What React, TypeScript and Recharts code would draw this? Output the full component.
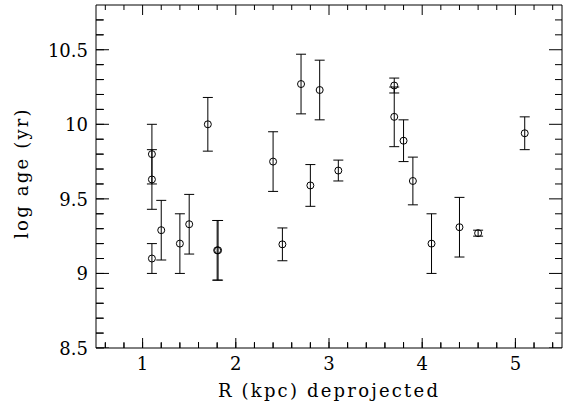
import React from "react";
import {
  ScatterChart,
  Scatter,
  XAxis,
  YAxis,
  ErrorBar,
} from "recharts";

// deprojected radius (kpc)
const radius = [
  1.1, 1.1, 1.1, 1.2, 1.4, 1.5, 1.7, 1.8, 1.81, 2.4, 2.5, 2.7, 2.8, 2.9, 3.1,
  3.7, 3.7, 3.8, 3.9, 4.1, 4.4, 4.6, 5.1,
];
// log age (yr)
const logAge = [
  9.8, 9.63, 9.1, 9.29, 9.2, 9.33, 10.0, 9.155, 9.155, 9.75, 9.195, 10.27,
  9.59, 10.23, 9.69, 10.26, 10.05, 9.89, 9.62, 9.2, 9.31, 9.27, 9.94,
];
const ageErr = [
  0.2, 0.2, 0.1, 0.2, 0.2, 0.2, 0.18, 0.2, 0.2, 0.2, 0.11, 0.2, 0.14, 0.2,
  0.07, 0.05, 0.2, 0.14, 0.16, 0.2, 0.2, 0.02, 0.11,
];

const xTicks = [
  0.6, 0.8, 1, 1.2, 1.4, 1.6, 1.8, 2, 2.2, 2.4, 2.6, 2.8, 3, 3.2, 3.4, 3.6,
  3.8, 4, 4.2, 4.4, 4.6, 4.8, 5, 5.2, 5.4,
];
const yTicks = [
  8.5, 8.6, 8.7, 8.8, 8.9, 9, 9.1, 9.2, 9.3, 9.4, 9.5, 9.6, 9.7, 9.8, 9.9, 10,
  10.1, 10.2, 10.3, 10.4, 10.5, 10.6, 10.7,
];

const X_DOMAIN = [0.5, 5.5];
const Y_DOMAIN = [8.5, 10.8];

const data = radius.map((r, i) => ({ r, age: logAge[i], err: ageErr[i] }));

// longer marks for the major ticks, placed through the chart scales
const bottomMarks = xTicks.map((r) => ({ r, age: Y_DOMAIN[0] }));
const topMarks = xTicks.map((r) => ({ r, age: Y_DOMAIN[1] }));
const leftMarks = yTicks.map((age) => ({ r: X_DOMAIN[0], age }));
const rightMarks = yTicks.map((age) => ({ r: X_DOMAIN[1], age }));

const W = 563;
const H = 412;
const FONT = "DejaVu Serif";
const X_TICK = 6; // inward tick length, x axes
const Y_TICK = 8; // inward tick length, y axes

const isMajorX = (v: number) => Math.abs(v - Math.round(v)) < 1e-6;
const isMajorY = (v: number) => Math.abs(v * 2 - Math.round(v * 2)) < 1e-6;

const entry = (p: any) => p.payload ?? p;

const makeMark = (side: "b" | "t" | "l" | "r") => (p: any) => {
  const e = entry(p);
  const cx = Number(p.cx);
  const cy = Number(p.cy);
  if (side === "b" || side === "t") {
    const len = isMajorX(e.r) ? 10 : 5;
    const y2 = side === "b" ? cy - len : cy + len;
    return <line x1={cx} x2={cx} y1={cy} y2={y2} stroke="#000" strokeWidth={1} />;
  }
  const len = isMajorY(e.age) ? 13 : 7;
  const x2 = side === "l" ? cx + len : cx - len;
  return <line x1={cx} x2={x2} y1={cy} y2={cy} stroke="#000" strokeWidth={1} />;
};

const BottomLabel = (p: any) => {
  const v = p.payload.value;
  if (!isMajorX(v)) return <g />;
  return (
    <text x={Number(p.x)} y={Number(p.y) + 22} textAnchor="middle" fontFamily={FONT} fontSize={18} fill="#000">
      {String(v)}
    </text>
  );
};

const LeftLabel = (p: any) => {
  const v = p.payload.value;
  if (!isMajorY(v)) return <g />;
  return (
    <text x={Number(p.x) - 8} y={Number(p.y) + 7} textAnchor="end" fontFamily={FONT} fontSize={18} fill="#000">
      {String(v)}
    </text>
  );
};

const OpenCircle = (p: any) => (
  <circle cx={p.cx} cy={p.cy} r={3.5} fill="none" stroke="#000" strokeWidth={1} />
);

const titleStyle: React.CSSProperties = {
  position: "absolute",
  fontFamily: FONT,
  fontSize: 18,
  letterSpacing: 2.2,
  lineHeight: "20px",
  height: 20,
  textAlign: "center",
  whiteSpace: "nowrap",
  color: "#000",
};

export default function App() {
  return (
    <div style={{ position: "absolute", left: 0, top: 0, width: W, height: H, background: "#fff" }}>
      <ScatterChart
        width={W}
        height={H}
        margin={{ top: 4, right: 0, bottom: 0, left: 0 }}
      >
        <XAxis
          type="number"
          dataKey="r"
          domain={X_DOMAIN}
          ticks={xTicks}
          allowDataOverflow
          height={64}
          tickSize={-X_TICK}
          tickMargin={X_TICK}
          tickLine={{ stroke: "#000" }}
          tick={BottomLabel}
          axisLine={{ stroke: "#000" }}
          interval={0}
        />
        <XAxis
          xAxisId="top"
          orientation="top"
          type="number"
          domain={X_DOMAIN}
          ticks={xTicks}
          allowDataOverflow
          height={1}
          tickSize={-X_TICK}
          tickLine={{ stroke: "#000" }}
          tick={false}
          axisLine={{ stroke: "#000" }}
          interval={0}
        />
        <YAxis
          type="number"
          dataKey="age"
          domain={Y_DOMAIN}
          ticks={yTicks}
          allowDataOverflow
          width={96}
          tickSize={-Y_TICK}
          tickMargin={Y_TICK}
          tickLine={{ stroke: "#000" }}
          tick={LeftLabel}
          axisLine={{ stroke: "#000" }}
          interval={0}
        />
        <YAxis
          yAxisId="right"
          orientation="right"
          type="number"
          domain={Y_DOMAIN}
          ticks={yTicks}
          allowDataOverflow
          width={1}
          tickSize={-Y_TICK}
          tickLine={{ stroke: "#000" }}
          tick={false}
          axisLine={{ stroke: "#000" }}
          interval={0}
        />
        <Scatter data={bottomMarks} shape={makeMark("b")} isAnimationActive={false} />
        <Scatter data={topMarks} shape={makeMark("t")} isAnimationActive={false} />
        <Scatter data={leftMarks} shape={makeMark("l")} isAnimationActive={false} />
        <Scatter data={rightMarks} shape={makeMark("r")} isAnimationActive={false} />
        <Scatter data={data} shape={OpenCircle} isAnimationActive={false}>
          <ErrorBar dataKey="err" direction="y" width={5} stroke="#000" strokeWidth={1} isAnimationActive={false} />
        </Scatter>
      </ScatterChart>
      <div style={{ ...titleStyle, left: 96, width: 466, top: 381 }}>R (kpc) deprojected</div>
      <div
        style={{
          ...titleStyle,
          left: -78,
          width: 200,
          top: 163,
          transform: "rotate(-90deg)",
        }}
      >
        log age (yr)
      </div>
    </div>
  );
}
